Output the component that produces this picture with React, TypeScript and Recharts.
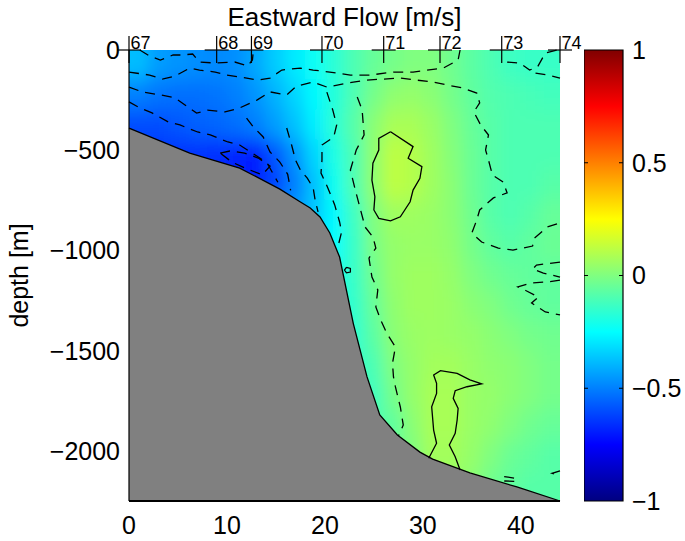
import React from 'react';
import {
  ComposedChart,
  BarChart,
  Bar,
  Scatter,
  Area,
  Line,
  XAxis,
  YAxis,
  ReferenceLine,
} from 'recharts';

// section geometry
const X_MAX = 44;
const DEPTH_MIN = -2250;
const xTicks = [0, 10, 20, 30, 40];
const depthTicks = [-2000, -1500, -1000, -500, 0];
const colorTicks = [-1, -0.5, 0, 0.5, 1];
const colorbarData = [{ name: 'flow', span: [-1, 1] }];

// gridded eastward velocity (m/s)
const gridX = [1, 3, 5, 7, 9, 11, 13, 15, 17, 19, 21, 23, 25, 27, 29, 31, 33, 35, 37, 39, 41, 43];
const gridDepth = [-75, -225, -375, -525, -675, -825, -975, -1125, -1275, -1425, -1575, -1725, -1875, -2025, -2175];
const flowByDepth = [
  [-0.38, -0.44, -0.46, -0.47, -0.48, -0.47, -0.42, -0.35, -0.29, -0.23, -0.17, -0.1, -0.05, -0.02, 0, 0, -0.03, -0.07, -0.1, -0.13, -0.14, -0.14],
  [-0.5, -0.52, -0.53, -0.53, -0.52, -0.5, -0.46, -0.4, -0.33, -0.26, -0.18, -0.1, -0.02, 0.03, 0.04, 0.02, -0.02, -0.06, -0.09, -0.1, -0.11, -0.12],
  [-0.6, -0.6, -0.58, -0.56, -0.55, -0.53, -0.5, -0.44, -0.37, -0.28, -0.17, -0.08, 0.02, 0.08, 0.08, 0.05, 0, -0.05, -0.08, -0.1, -0.1, -0.1],
  [-0.65, -0.65, -0.65, -0.65, -0.66, -0.68, -0.7, -0.58, -0.46, -0.33, -0.2, -0.1, 0.03, 0.12, 0.1, 0.06, 0.01, -0.04, -0.08, -0.1, -0.1, -0.1],
  [-0.66, -0.66, -0.66, -0.66, -0.66, -0.68, -0.68, -0.62, -0.5, -0.37, -0.22, -0.1, 0.03, 0.12, 0.1, 0.06, 0.02, -0.04, -0.08, -0.1, -0.1, -0.08],
  [-0.45, -0.45, -0.45, -0.45, -0.45, -0.45, -0.45, -0.45, -0.45, -0.36, -0.26, -0.13, 0, 0.06, 0.06, 0.05, 0.02, -0.03, -0.08, -0.1, -0.08, -0.05],
  [-0.3, -0.3, -0.3, -0.3, -0.3, -0.3, -0.3, -0.3, -0.3, -0.3, -0.25, -0.14, -0.01, 0.04, 0.05, 0.05, 0.03, -0.02, -0.06, -0.08, -0.06, -0.04],
  [-0.22, -0.22, -0.22, -0.22, -0.22, -0.22, -0.22, -0.22, -0.22, -0.22, -0.22, -0.14, -0.03, 0.04, 0.06, 0.06, 0.04, 0, -0.03, -0.05, -0.06, -0.06],
  [-0.2, -0.2, -0.2, -0.2, -0.2, -0.2, -0.2, -0.2, -0.2, -0.2, -0.2, -0.15, -0.05, 0.03, 0.06, 0.06, 0.05, 0.02, 0, -0.03, -0.05, -0.06],
  [-0.2, -0.2, -0.2, -0.2, -0.2, -0.2, -0.2, -0.2, -0.2, -0.2, -0.2, -0.16, -0.07, 0.02, 0.05, 0.06, 0.05, 0.04, 0.02, 0, -0.02, -0.03],
  [-0.15, -0.15, -0.15, -0.15, -0.15, -0.15, -0.15, -0.15, -0.15, -0.15, -0.15, -0.15, -0.1, 0, 0.04, 0.07, 0.07, 0.05, 0.03, 0.02, 0, -0.02],
  [-0.15, -0.15, -0.15, -0.15, -0.15, -0.15, -0.15, -0.15, -0.15, -0.15, -0.15, -0.15, -0.12, -0.02, 0.04, 0.08, 0.08, 0.05, 0.04, 0.02, 0, -0.02],
  [-0.1, -0.1, -0.1, -0.1, -0.1, -0.1, -0.1, -0.1, -0.1, -0.1, -0.1, -0.1, -0.1, -0.06, 0.02, 0.08, 0.08, 0.05, 0.03, 0, -0.03, -0.05],
  [-0.05, -0.05, -0.05, -0.05, -0.05, -0.05, -0.05, -0.05, -0.05, -0.05, -0.05, -0.05, -0.05, -0.05, 0, 0.07, 0.07, 0.04, 0, -0.04, -0.06, -0.08],
  [0.05, 0.05, 0.05, 0.05, 0.05, 0.05, 0.05, 0.05, 0.05, 0.05, 0.05, 0.05, 0.05, 0.05, 0.05, 0.05, 0.05, 0.02, -0.03, -0.06, -0.08, -0.08],
];

// sea floor (distance, depth)
const bottomProfile: [number, number][] = [
  [0, -390], [6.2, -514], [11.3, -589], [15.4, -694], [17.5, -758], [18.5, -788], [19.5, -833],
  [20.5, -913], [21.5, -1033], [22.9, -1365], [24.3, -1631], [25.6, -1821], [27.4, -1921],
  [29.7, -2006], [31.0, -2041], [34.8, -2110], [39.6, -2180], [44, -2250],
];

// CTD stations along the top
const stationX = [0, 8.95, 12.5, 19.7, 26.0, 31.75, 38.05, 44];
const stationLabels = ['67', '68', '69', '70', '71', '72', '73', '74'];

// solid contours (distance, depth)
const coreContour: [number, number][] = [
  [26.7, -408], [29.0, -482], [28.5, -540], [29.9, -582], [29.7, -640], [29.0, -699], [28.7, -757],
  [27.7, -832], [26.7, -852], [25.5, -840], [25.0, -798], [25.1, -732], [24.8, -649], [24.9, -565],
  [25.5, -499], [25.5, -441], [26.7, -408],
];
const deepContour: [number, number][] = [
  [30.6, -2037], [31.4, -1962], [31.1, -1896], [30.9, -1780], [31.4, -1713], [31.4, -1663], [31.1, -1621],
  [31.8, -1600], [33.5, -1613], [34.8, -1646], [36.0, -1666], [34.5, -1680], [33.3, -1700], [33.1, -1738],
  [33.6, -1788], [33.5, -1846], [33.3, -1912], [32.7, -1971], [33.3, -2029], [33.8, -2095],
];
const slopeRing: [number, number][] = [
  [22.2, -1085], [22.6, -1090], [22.6, -1108], [22.2, -1112], [22.0, -1098], [22.2, -1085],
];

// dashed contours (distance, depth)
const surfaceContour: [number, number][] = [
  [1.1, 0], [2.1, -30], [3.2, -50], [4.5, -25], [5.4, -25], [6.5, -20], [7.2, -60], [8.8, -65],
  [10.8, -60], [12.1, -80], [12.6, -50], [12.7, 0],
];
const upperContour: [number, number][] = [
  [0, -110], [2.1, -125], [3.4, -145], [4.7, -130], [6.2, -90], [7.2, -100], [8.8, -110], [10.0, -125],
  [11.3, -135], [13.2, -150], [14.4, -140], [15.6, -100], [17.5, -90], [18.8, -100], [20.5, -110],
  [22.6, -125], [24.6, -125], [27.0, -110], [29.0, -110], [32.1, -90], [33.6, -50], [33.8, 0],
];
const eastContour: [number, number][] = [
  [0, -185], [1.4, -210], [3.2, -224], [4.7, -239], [6.9, -315], [8.0, -300], [9.8, -309], [11.3, -289],
  [13.1, -249], [14.4, -209], [16.1, -224], [17.1, -180], [18.8, -160], [20.2, -185], [22.9, -160],
  [24.3, -150], [27.7, -140], [31.0, -160], [34.1, -190], [35.5, -215], [35.8, -264], [35.2, -309],
  [35.9, -374], [36.7, -424], [36.4, -499], [36.7, -549], [37.1, -624], [38.2, -659], [38.6, -713],
  [37.2, -738], [35.8, -798], [35.5, -848], [35.0, -913], [36.0, -958], [37.7, -988], [39.2, -998],
  [41.2, -978], [41.4, -938], [42.7, -883], [44, -863],
];
const shelfContour: [number, number][] = [
  [0, -259], [1.1, -289], [2.35, -314], [4.0, -359], [5.2, -374], [7.0, -409], [8.3, -424],
  [10.1, -459], [11.3, -474], [13.2, -534], [14.1, -564], [15.2, -660],
];
const jetCoreContour: [number, number][] = [
  [9.3, -514], [10.3, -504], [11.8, -514], [13.2, -539], [14.4, -579], [13.6, -623], [11.8, -588],
  [10.5, -559], [9.3, -514],
];
const innerSlopeContour: [number, number][] = [
  [12.0, -340], [12.7, -384], [13.7, -434], [14.4, -509], [15.4, -559], [16.2, -620], [16.5, -700],
];
const midSlopeContour: [number, number][] = [
  [16.1, -389], [16.6, -474], [17.0, -549], [17.5, -599], [18.2, -639], [18.8, -688], [19.0, -748],
  [19.3, -808],
];
const outerSlopeContour: [number, number][] = [
  [20.2, -210], [20.8, -299], [21.2, -374], [20.9, -434], [19.7, -474], [19.7, -549], [19.6, -614],
  [20.3, -688], [21.0, -773], [21.5, -858], [21.7, -908], [21.3, -988],
];
const slopeContour: [number, number][] = [
  [23.3, -234], [23.8, -299], [24.0, -424], [23.2, -499], [22.6, -599], [23.1, -698], [24.1, -883],
  [24.9, -933], [25.2, -988], [24.5, -1038], [24.8, -1133], [25.4, -1197], [25.2, -1282], [25.7, -1347],
  [26.3, -1412], [27.2, -1482], [26.9, -1562], [27.0, -1631], [27.2, -1681], [27.7, -1781], [28.0, -1871],
  [27.5, -1926],
];
const eastEdgeContourA: [number, number][] = [
  [44, -1058], [41.6, -1073], [41.2, -1093], [42.3, -1113], [44, -1133],
];
const eastEdgeContourB: [number, number][] = [
  [44, -1148], [42.8, -1157], [41.1, -1162], [39.7, -1182], [40.5, -1200], [41.8, -1232], [41.1, -1262],
  [42.5, -1307], [44, -1322],
];
const nearSurfaceEast: [number, number][] = [
  [38.6, -60], [39.9, -65], [40.9, -100], [41.7, -85], [42.5, -15], [43.7, 0],
];
const eastEdgeTop: [number, number][] = [
  [41.5, -115], [42.7, -125], [44, -140],
];
const floorLoopEast: [number, number][] = [
  [38.3, -2128], [39.6, -2138], [39.4, -2152], [38.2, -2150],
];
const floorEdgeEast: [number, number][] = [
  [44, -2100], [43.2, -2112], [44, -2124],
];

const solidContours = [coreContour, deepContour, slopeRing];
const dashedContours = [
  surfaceContour, upperContour, eastContour, shelfContour, jetCoreContour, innerSlopeContour,
  midSlopeContour, outerSlopeContour, slopeContour, eastEdgeContourA, eastEdgeContourB,
  nearSurfaceEast, eastEdgeTop, floorLoopEast, floorEdgeEast,
];

// layout
const W = 685;
const H = 541;
const MARGIN = { top: 50, right: 125, bottom: 0, left: 49 };
const Y_AXIS_W = 80;
const X_AXIS_H = 40;
const PLOT_L = MARGIN.left + Y_AXIS_W;
const PLOT_T = MARGIN.top;
const PLOT_W = W - PLOT_L - MARGIN.right;
const PLOT_H = H - PLOT_T - X_AXIS_H;
const CELL_W = (PLOT_W / X_MAX) * (gridX[1] - gridX[0]);
const CELL_H = (PLOT_H / -DEPTH_MIN) * (gridDepth[0] - gridDepth[1]);
const FONT = '"Liberation Sans", Arial, Helvetica, sans-serif';

const jet = (v: number) => {
  const t = (v + 1) / 2;
  const ch = (c: number) => Math.round(255 * Math.max(0, Math.min(1, 1.5 - Math.abs(4 * t - c))));
  return `rgb(${ch(3)},${ch(2)},${ch(1)})`;
};

const minus = (v: number) => String(v).replace('-', '\u2212');

const fieldData = flowByDepth.flatMap((row, r) =>
  row.map((v, c) => ({ x: gridX[c], d: gridDepth[r], v, r, c })),
);
const bottomData = bottomProfile.map(([x, d]) => ({ x, d }));
const stationData = stationX.map((x, i) => ({ x, d: 0, label: stationLabels[i] }));
const toLine = (pts: [number, number][]) => pts.map(([x, d]) => ({ x, d }));

const FieldCell = (props: any) => {
  const { cx, cy, payload } = props;
  const padL = payload.c === 0 ? 30 : 0.6;
  const padR = payload.c === gridX.length - 1 ? 30 : 0.6;
  const padT = payload.r === 0 ? 30 : 0.6;
  const padB = payload.r === gridDepth.length - 1 ? 30 : 0.6;
  return (
    <rect
      x={cx - CELL_W / 2 - padL}
      y={cy - CELL_H / 2 - padT}
      width={CELL_W + padL + padR}
      height={CELL_H + padT + padB}
      fill={jet(payload.v)}
    />
  );
};

const StationMark = (props: any) => {
  const { cx, cy, payload } = props;
  return (
    <g>
      <line x1={cx - 12} x2={cx + 12} y1={cy} y2={cy} stroke="#000" strokeWidth={1.2} />
      <line x1={cx} x2={cx} y1={cy - 14} y2={cy + 13} stroke="#000" strokeWidth={1.2} />
      <text x={cx + 1.5} y={cy - 1} fontSize={18} fill="#000" fontFamily={FONT}>
        {payload.label}
      </text>
    </g>
  );
};

const jetStops = [1, 0.75, 0.5, 0.25, 0, -0.25, -0.5, -0.75, -1];

const axesFor = (visible: boolean) => [
  <XAxis
    key="x"
    type="number"
    dataKey="x"
    domain={[0, X_MAX]}
    ticks={xTicks}
    height={X_AXIS_H}
    tickLine={false}
    tickSize={0}
    tickMargin={15}
    axisLine={visible ? { stroke: '#000', strokeWidth: 2 } : false}
    tick={visible ? { fill: '#000', fontSize: 25 } : false}
  />,
  <YAxis
    key="y"
    type="number"
    dataKey="d"
    domain={[DEPTH_MIN, 0]}
    ticks={depthTicks}
    width={Y_AXIS_W}
    tickLine={false}
    tickSize={0}
    tickMargin={9}
    axisLine={visible ? { stroke: '#000', strokeWidth: 1.2 } : false}
    tick={visible ? { fill: '#000', fontSize: 25 } : false}
    tickFormatter={minus}
  />,
];

export default function App() {
  return (
    <div style={{ position: 'absolute', left: 0, top: 0, width: W, height: H, background: '#fff', fontFamily: FONT }}>
      <style>{`.flow-field{filter:url(#fieldBlur);clip-path:url(#plotClip);}`}</style>
      <svg width={0} height={0} style={{ position: 'absolute' }}>
        <defs>
          <filter id="fieldBlur" x="-20%" y="-20%" width="140%" height="140%">
            <feGaussianBlur stdDeviation="7 10" />
          </filter>
          <clipPath id="plotClip">
            <rect x={PLOT_L} y={PLOT_T} width={PLOT_W} height={PLOT_H} />
          </clipPath>
          <linearGradient id="jetBar" x1="0" y1="0" x2="0" y2="1">
            {jetStops.map((v) => (
              <stop key={v} offset={(1 - v) / 2} stopColor={jet(v)} />
            ))}
          </linearGradient>
        </defs>
      </svg>

      {/* colour field underneath */}
      <div style={{ position: 'absolute', left: 0, top: 0 }}>
        <ComposedChart width={W} height={H} margin={MARGIN}>
          {axesFor(false)}
          <Scatter data={fieldData} shape={FieldCell} className="flow-field" isAnimationActive={false} />
        </ComposedChart>
      </div>

      {/* sea floor, contours, stations, axes */}
      <div style={{ position: 'absolute', left: 0, top: 0 }}>
        <ComposedChart width={W} height={H} margin={MARGIN}>
          {axesFor(true)}
          <Area
            data={bottomData}
            dataKey="d"
            type="linear"
            baseValue="dataMin"
            fill="#808080"
            fillOpacity={1}
            stroke="#000"
            strokeWidth={1.3}
            isAnimationActive={false}
          />
          {solidContours.map((pts, i) => (
            <Line
              key={`s${i}`}
              data={toLine(pts)}
              dataKey="d"
              type="linear"
              stroke="#000"
              strokeWidth={1.3}
              dot={false}
              isAnimationActive={false}
            />
          ))}
          {dashedContours.map((pts, i) => (
            <Line
              key={`d${i}`}
              data={toLine(pts)}
              dataKey="d"
              type="linear"
              stroke="#000"
              strokeWidth={1.3}
              strokeDasharray="10 7"
              dot={false}
              isAnimationActive={false}
            />
          ))}
          <Scatter data={stationData} shape={StationMark} isAnimationActive={false} />
        </ComposedChart>
      </div>

      {/* colour bar */}
      <div style={{ position: 'absolute', left: 584, top: 0 }}>
        <BarChart
          width={101}
          height={H}
          data={colorbarData}
          margin={{ top: PLOT_T, right: 2, bottom: X_AXIS_H, left: 0 }}
          barCategoryGap={0}
        >
          <XAxis dataKey="name" hide />
          <YAxis
            type="number"
            orientation="right"
            domain={[-1, 1]}
            ticks={colorTicks}
            width={60}
            tickLine={false}
            axisLine={false}
            tickSize={0}
            tickMargin={9}
            tick={{ fill: '#000', fontSize: 25 }}
            tickFormatter={minus}
          />
          <Bar dataKey="span" fill="url(#jetBar)" stroke="#000" strokeWidth={1.2} isAnimationActive={false} />
          {colorTicks.slice(1, -1).map((v) => (
            <ReferenceLine key={v} y={v} stroke="#000" strokeDasharray="4 31 4" />
          ))}
        </BarChart>
      </div>

      <svg width={W} height={H} style={{ position: 'absolute', left: 0, top: 0, pointerEvents: 'none' }}>
        <text x={PLOT_L + PLOT_W / 2} y={26} textAnchor="middle" fontSize={26} fill="#000" fontFamily={FONT}>
          Eastward Flow [m/s]
        </text>
        <text
          transform={`translate(28 ${PLOT_T + PLOT_H / 2}) rotate(-90)`}
          textAnchor="middle"
          fontSize={25}
          fill="#000"
          fontFamily={FONT}
        >
          depth [m]
        </text>
      </svg>
    </div>
  );
}
